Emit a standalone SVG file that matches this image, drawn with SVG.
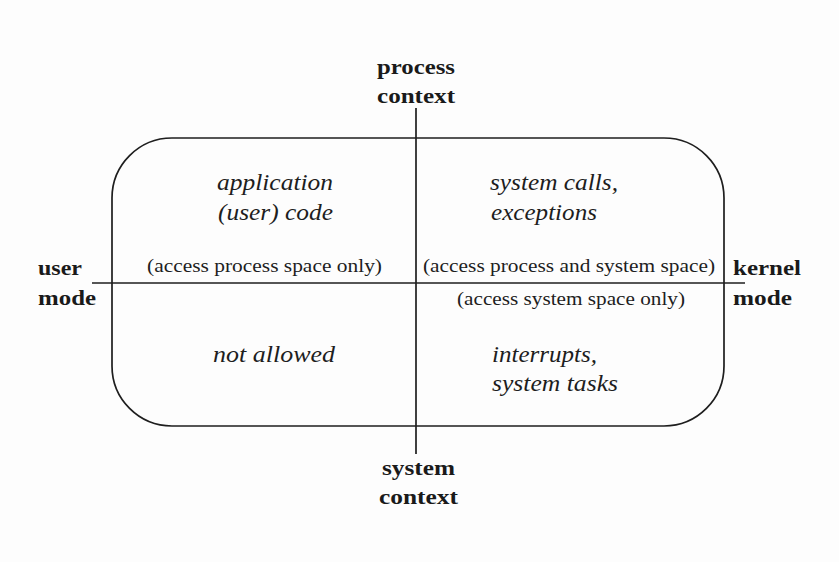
<svg xmlns="http://www.w3.org/2000/svg" width="839" height="562" viewBox="0 0 839 562">
<style>
.ln{stroke:#1e1e1e;stroke-width:1.7;fill:none}
.ax{font-family:"Liberation Serif",serif;font-weight:bold;font-size:22px;fill:#1a1a1a}
.it{font-family:"Liberation Serif",serif;font-style:italic;font-size:23px;fill:#1e1e1e}
.ac{font-family:"Liberation Serif",serif;font-size:18px;fill:#1e1e1e}
</style>
<rect x="0" y="0" width="839" height="562" fill="#fdfdfd"/>
<g id="frame">
<rect class="ln" x="112" y="138" width="612" height="288" rx="60" ry="60"/>
</g>
<g id="connectors">
<line class="ln" x1="416" y1="108" x2="416" y2="454"/>
<line class="ln" x1="92" y1="283" x2="745" y2="283"/>
</g>
<g id="axis-process-context">
<text class="ax" x="377" y="74" textLength="78" lengthAdjust="spacingAndGlyphs">process</text>
<text class="ax" x="377" y="103" textLength="78" lengthAdjust="spacingAndGlyphs">context</text>
</g>
<g id="axis-system-context">
<text class="ax" x="382" y="475" textLength="73" lengthAdjust="spacingAndGlyphs">system</text>
<text class="ax" x="379" y="504" textLength="79" lengthAdjust="spacingAndGlyphs">context</text>
</g>
<g id="axis-user-mode">
<text class="ax" x="38" y="275" textLength="44" lengthAdjust="spacingAndGlyphs">user</text>
<text class="ax" x="38" y="305" textLength="58" lengthAdjust="spacingAndGlyphs">mode</text>
</g>
<g id="axis-kernel-mode">
<text class="ax" x="733" y="275" textLength="68" lengthAdjust="spacingAndGlyphs">kernel</text>
<text class="ax" x="733" y="305" textLength="59" lengthAdjust="spacingAndGlyphs">mode</text>
</g>
<g id="q-user-process">
<text class="it" x="217" y="190" textLength="116" lengthAdjust="spacingAndGlyphs">application</text>
<text class="it" x="218" y="220" textLength="115" lengthAdjust="spacingAndGlyphs">(user) code</text>
<text class="ac" x="147" y="272" textLength="235" lengthAdjust="spacingAndGlyphs">(access process space only)</text>
</g>
<g id="q-kernel-process">
<text class="it" x="490" y="190" textLength="128" lengthAdjust="spacingAndGlyphs">system calls,</text>
<text class="it" x="491" y="220" textLength="106" lengthAdjust="spacingAndGlyphs">exceptions</text>
<text class="ac" x="423" y="272" textLength="292" lengthAdjust="spacingAndGlyphs">(access process and system space)</text>
</g>
<g id="q-user-system">
<text class="it" x="213" y="362" textLength="122" lengthAdjust="spacingAndGlyphs">not allowed</text>
</g>
<g id="q-kernel-system">
<text class="ac" x="457" y="305" textLength="228" lengthAdjust="spacingAndGlyphs">(access system space only)</text>
<text class="it" x="492" y="362" textLength="105" lengthAdjust="spacingAndGlyphs">interrupts,</text>
<text class="it" x="492" y="391" textLength="126" lengthAdjust="spacingAndGlyphs">system tasks</text>
</g>
</svg>
